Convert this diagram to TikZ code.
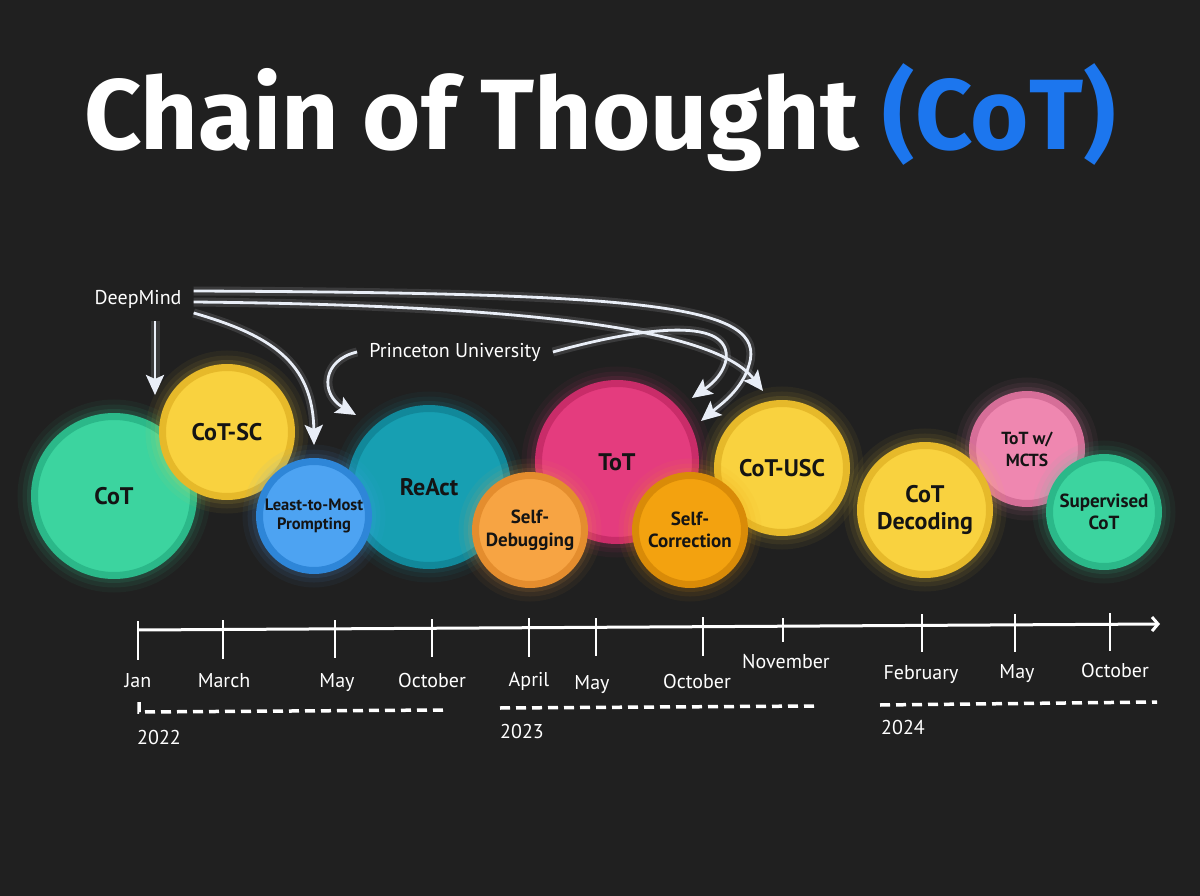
\documentclass[tikz,border=0pt]{standalone}
\usepackage{fontspec}
\usepackage{xcolor}
\usepackage{tikz}
\usetikzlibrary{arrows.meta, positioning}
\newfontfamily\titlefont{Fira Sans}
\newfontfamily\bubfont{PT Sans}
\newfontfamily\lblfont{PT Sans}
\definecolor{bg}{HTML}{202020}
\definecolor{ink}{HTML}{141414}
\definecolor{cotblue}{HTML}{1C76EE}
\definecolor{glowwhite}{HTML}{E9EEF7}
\definecolor{mint}{HTML}{3CD49F}
\definecolor{mintring}{HTML}{2BB889}
\definecolor{sun}{HTML}{F9D23F}
\definecolor{sunring}{HTML}{E6B92A}
\definecolor{sky}{HTML}{4DA3F2}
\definecolor{skyring}{HTML}{2E86D8}
\definecolor{teal}{HTML}{179FB2}
\definecolor{tealring}{HTML}{11889A}
\definecolor{tangerine}{HTML}{F7A443}
\definecolor{tangerinering}{HTML}{E48D2E}
\definecolor{magenta}{HTML}{E43C7E}
\definecolor{magentaring}{HTML}{C92C69}
\definecolor{amber}{HTML}{F3A20F}
\definecolor{amberring}{HTML}{D98B08}
\definecolor{rose}{HTML}{EF87B0}
\definecolor{rosering}{HTML}{D66E98}

\begin{document}
\begin{tikzpicture}[
  x=1pt, y=-1pt,
  bub/.style={circle, inner sep=0pt, fill=#1, draw=#1ring, line width=7pt,
              preaction={draw=#1, line width=34pt, opacity=0.05},
              preaction={draw=#1, line width=24pt, opacity=0.07},
              preaction={draw=#1, line width=15pt, opacity=0.10},
              text=ink, align=center},
  bigtxt/.style={font=\bubfont\bfseries\fontsize{24}{27}\selectfont},
  smalltxt/.style={font=\bubfont\bfseries\fontsize{19}{22.5}\selectfont},
  tinytxt/.style={font=\bubfont\bfseries\fontsize{16.5}{19.5}\selectfont},
  org/.style={font=\lblfont\fontsize{20}{24}\selectfont, text=white, inner sep=0pt},
  arr/.style={-{Stealth[length=20pt, width=18pt, inset=4pt]}, line width=2.8pt, draw=glowwhite,
              preaction={draw=glowwhite, line width=9pt, opacity=0.13}},
  axis/.style={-{Straight Barb[length=6pt, width=14pt]}, line width=3pt, draw=white},
  tick/.style={line width=2.4pt, draw=white},
  month/.style={font=\lblfont\fontsize{20}{24}\selectfont, text=white, anchor=base, inner sep=0pt},
  year/.style={font=\lblfont\fontsize{20}{24}\selectfont, text=white, anchor=base west, inner sep=0pt},
  yr/.style={line width=3.5pt, draw=white, dash pattern=on 10pt off 6pt}
]

% Background
\fill[bg] (0,0) rectangle (1200,896);
\useasboundingbox (0,0) rectangle (1200,896);

% Title
\node[anchor=base, text=white, font=\titlefont\bfseries\fontsize{100}{110}\selectfont] (title) at (600,150)
  {Chain of Thought \textcolor{cotblue}{(CoT)}};

% Bubbles
\node[bub=mint, minimum size=159pt, bigtxt] (cot) at (114,496) {CoT};
\node[bub=sun, minimum size=129pt, bigtxt] (cotsc) at (227,432) {CoT-SC};
\node[bub=teal, minimum size=157pt, bigtxt] (react) at (429,487) {ReAct};
\node[bub=sky, minimum size=109pt, tinytxt] (ltm) at (314,516) {Least-to-Most\\Prompting};
\node[bub=magenta, minimum size=157pt, bigtxt] (tot) at (617,462) {ToT};
\node[bub=tangerine, minimum size=109pt, smalltxt] (selfdebug) at (530,530) {Self-\\Debugging};
\node[bub=sun, minimum size=129pt, bigtxt] (cotusc) at (782,468) {CoT-USC};
\node[bub=amber, minimum size=109pt, smalltxt] (selfcorr) at (690,530) {Self-\\Correction};
\node[bub=rose, minimum size=109pt, font=\bubfont\bfseries\fontsize{17.5}{22}\selectfont] (totmcts) at (1027,449) {ToT w/\\MCTS};
\node[bub=sun, minimum size=129pt, bigtxt] (cotdec) at (925,510) {CoT\\Decoding};
\node[bub=mint, minimum size=109pt, smalltxt] (supcot) at (1104,512) {Supervised\\CoT};

% Labs
\node[org] (deepmind) at (138,299) {DeepMind};
\node[org] (princeton) at (455,352) {Princeton University};

% Arrow tips
\coordinate (dmtip) at (155,395);
\coordinate (reacttip) at (356,415);
\coordinate (tottip) at (692,398);
\coordinate (sctip) at (701,421);
\coordinate (usctip) at (763,391);

% Arrows
\draw[arr] ([xshift=17pt,yshift=-13pt]deepmind.south) -- (dmtip);
\draw[arr] ([xshift=12pt,yshift=-14pt]deepmind.east) .. controls (270,335) and (313,362) .. ([yshift=13pt]ltm.north);
\draw[arr] ([xshift=12pt,yshift=8pt]deepmind.east) .. controls (650,293) and (768,305) .. (749,365)
  .. controls (742,390) and (720,405) .. (sctip);
\draw[arr] ([xshift=-12pt]princeton.west) .. controls (322,360) and (320,394) .. (reacttip);
\draw[arr] ([xshift=12pt]princeton.east) .. controls (650,325) and (732,318) .. (726,360)
  .. controls (722,378) and (706,388) .. (tottip);
\draw[arr] ([xshift=12pt,yshift=-3pt]deepmind.east) .. controls (500,305) and (712,325) .. (usctip);

% Timeline
\coordinate (axstart) at (138,630);
\coordinate (axend) at (1160,624);
\draw[axis] (axstart) -- (axend);
\foreach \x/\ya/\yb in {138/621/660, 223/620/659, 335/620/658, 432/619/657, 529/618/657, 596/618/656,
                        703/617/656, 783/618/642, 922/614/652, 1015/614/652, 1110/613/651}
  \draw[tick] (\x,\ya) -- (\x,\yb);

% Months
\foreach \nm/\x/\y/\txt in {jan/138/687/Jan, mar/224/687/March, may/337/687/May, oct/432/687/October,
                            apr/529/686/April, maytwo/592/689/May, octtwo/697/688/October, nov/786/668/November,
                            feb/921/679/February, maythree/1017/678/May, octthree/1115/677/October}
  \node[month] (\nm) at (\x,\y) {\txt};

% Years
\draw[yr] (139,702) -- (139,712) -- (443,710);
\draw[yr] (500,708) -- (818,706);
\draw[yr] (880,705) -- (1157,702);
\node[year] (y2022) at (137,744) {2022};
\node[year] (y2023) at (500,738) {2023};
\node[year] (y2024) at (881,734) {2024};

\end{tikzpicture}
\end{document}
